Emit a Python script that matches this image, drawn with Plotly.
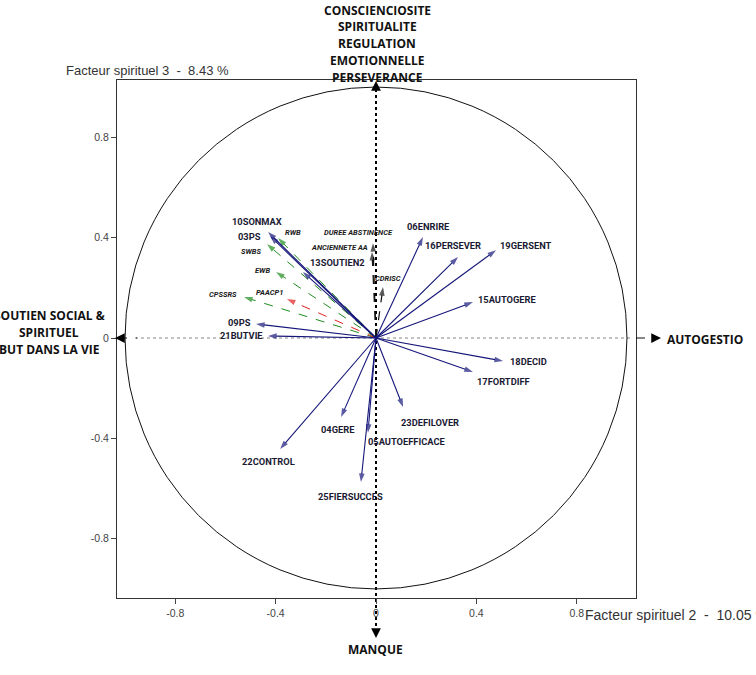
import plotly.graph_objects as go

# ---------------- data ----------------
blue_names = ["10SONMAX", "03PS", "13SOUTIEN2", "09PS", "21BUTVIE",
              "06ENRIRE", "16PERSEVER", "19GERSENT", "15AUTOGERE",
              "18DECID", "17FORTDIFF", "22CONTROL", "04GERE",
              "05AUTOEFFICACE", "25FIERSUCCES", "23DEFILOVER"]
blue_x = [-0.430, -0.422, -0.291, -0.478, -0.430,
          0.187, 0.327, 0.478, 0.386,
          0.506, 0.386, -0.382, -0.139,
          -0.032, -0.060, 0.108]
blue_y = [0.422, 0.406, 0.263, 0.056, 0.008,
          0.402, 0.323, 0.350, 0.143,
          -0.092, -0.135, -0.442, -0.315,
          -0.378, -0.574, -0.275]

green_names = ["RWB", "SWBS", "EWB", "CPSSRS"]
green_x = [-0.390, -0.434, -0.398, -0.526]
green_y = [0.398, 0.374, 0.263, 0.163]

red_names = ["PAACP1"]
red_x = [-0.355]
red_y = [0.155]

black_names = ["DUREE ABSTINENCE", "ANCIENNETE AA", "CDRISC"]
black_x = [-0.012, -0.016, 0.028]
black_y = [0.378, 0.343, 0.203]

tick_vals = [-0.8, -0.4, 0, 0.4, 0.8]
tick_text = ["-0.8", "-0.4", "0", "0.4", "0.8"]

x_title = "Facteur spirituel 2  -  10.05 %"
y_title = "Facteur spirituel 3  -  8.43 %"

# label placement (data units) for each variable
label_pos = {
    "10SONMAX": (-0.474, 0.466, "center"),
    "03PS": (-0.506, 0.406, "center"),
    "13SOUTIEN2": (-0.272, 0.299, "left"),
    "09PS": (-0.490, 0.060, "right"),
    "21BUTVIE": (-0.442, 0.008, "right"),
    "06ENRIRE": (0.211, 0.446, "center"),
    "16PERSEVER": (0.307, 0.367, "center"),
    "19GERSENT": (0.598, 0.367, "center"),
    "15AUTOGERE": (0.522, 0.155, "center"),
    "18DECID": (0.606, -0.092, "center"),
    "17FORTDIFF": (0.510, -0.175, "center"),
    "22CONTROL": (-0.430, -0.494, "center"),
    "04GERE": (-0.151, -0.363, "center"),
    "05AUTOEFFICACE": (0.120, -0.414, "center"),
    "25FIERSUCCES": (-0.100, -0.630, "center"),
    "23DEFILOVER": (0.215, -0.335, "center"),
    "RWB": (-0.371, 0.422, "left"),
    "SWBS": (-0.498, 0.343, "center"),
    "EWB": (-0.454, 0.267, "center"),
    "CPSSRS": (-0.610, 0.175, "center"),
    "PAACP1": (-0.426, 0.183, "center"),
    "DUREE ABSTINENCE": (-0.068, 0.422, "center"),
    "ANCIENNETE AA": (-0.147, 0.359, "center"),
    "CDRISC": (0.048, 0.239, "center"),
}

# ---------------- figure ----------------
fig = go.Figure()

BLUE = "#16167a"
GREEN = "#1e8c1e"
RED = "#e02020"
BLACK = "#111111"

def add_arrows(names, xs, ys, color, dash, width):
    for n, xv, yv in zip(names, xs, ys):
        fig.add_trace(go.Scatter(
            x=[0, xv], y=[0, yv], mode="lines+markers",
            line=dict(color=color, width=width, dash=dash),
            marker=dict(symbol="arrow", size=[0, 9], color=color,
                        angleref="previous", line=dict(width=0)),
            hoverinfo="text", text=[n, n], showlegend=False))

add_arrows(green_names, green_x, green_y, GREEN, "dash", 1)
add_arrows(red_names, red_x, red_y, RED, "dash", 1)
add_arrows(black_names, black_x, black_y, BLACK, "dash", 1.2)
add_arrows(blue_names, blue_x, blue_y, BLUE, "solid", 1.1)

annotations = []
LABEL_FONT = "Roboto, Arial"
for n in blue_names:
    x, y, anc = label_pos[n]
    annotations.append(dict(x=x, y=y, xref="x", yref="y", text="<b>%s</b>" % n,
                            showarrow=False, xanchor=anc, yanchor="middle",
                            font=dict(family=LABEL_FONT, size=9.3, color="#1a1a33")))
for n in green_names + red_names + black_names:
    x, y, anc = label_pos[n]
    annotations.append(dict(x=x, y=y, xref="x", yref="y", text="<b><i>%s</i></b>" % n,
                            showarrow=False, xanchor=anc, yanchor="middle",
                            font=dict(family=LABEL_FONT, size=7.5, color="#1a1a1a")))

# plot-area geometry (pixels)
L, R, T, B = 117, 636, 80, 598
W, H = R - L, B - T
def px(p):
    return (p - L) / W
def py(p):
    return (B - p) / H

BIG = dict(family="Open Sans, DejaVu Sans, Arial", size=12, color="#111111")
top_lines = ["CONSCIENCIOSITE", "SPIRITUALITE", "REGULATION", "EMOTIONNELLE", "PERSEVERANCE"]
for i, t in enumerate(top_lines):
    annotations.append(dict(x=px(377), y=py(10 + 16.8 * i), xref="paper", yref="paper",
                            text="<b>%s</b>" % t, showarrow=False, xanchor="center",
                            yanchor="middle", font=BIG))
left_lines = ["SOUTIEN SOCIAL &", "SPIRITUEL", "BUT DANS LA VIE"]
for i, t in enumerate(left_lines):
    annotations.append(dict(x=px(49), y=py(315 + 17 * i), xref="paper", yref="paper",
                            text="<b>%s</b>" % t, showarrow=False, xanchor="center",
                            yanchor="middle", font=BIG))
annotations.append(dict(x=px(665), y=py(339), xref="paper", yref="paper",
                        text="<b>AUTOGESTIO</b>", showarrow=False, xanchor="left",
                        yanchor="middle", font=BIG))
annotations.append(dict(x=px(375), y=py(649), xref="paper", yref="paper",
                        text="<b>MANQUE</b>", showarrow=False, xanchor="center",
                        yanchor="middle", font=BIG))

annotations.append(dict(x=px(64), y=py(70), xref="paper", yref="paper", text=y_title,
                        showarrow=False, xanchor="left", yanchor="middle",
                        font=dict(family="Liberation Sans, Arial", size=13, color="#333333")))
annotations.append(dict(x=px(583), y=py(615), xref="paper", yref="paper", text=x_title,
                        showarrow=False, xanchor="left", yanchor="middle",
                        font=dict(family="Liberation Sans, Arial", size=14, color="#333333")))

# axis arrowheads
AH = dict(showarrow=True, arrowhead=2, arrowsize=1.3, arrowwidth=1.5,
          arrowcolor="#000000", text="")
annotations.append(dict(x=0, y=py(81), xref="x", yref="paper", ax=0, ay=8, **AH))
annotations.append(dict(x=0, y=py(638), xref="x", yref="paper", ax=0, ay=-8, **AH))
annotations.append(dict(x=px(661), y=0, xref="paper", yref="y", ax=-8, ay=0, **AH))
annotations.append(dict(x=px(115), y=0, xref="paper", yref="y", ax=8, ay=0, **AH))

shapes = [
    dict(type="circle", xref="x", yref="y", x0=-1, y0=-1, x1=1, y1=1,
         line=dict(color="#111111", width=1), layer="below"),
    # horizontal dotted axis
    dict(type="line", xref="paper", yref="y", x0=px(135), x1=px(630), y0=0, y1=0,
         line=dict(color="#888888", width=1.2, dash="dot"), layer="below"),
    dict(type="line", xref="paper", yref="y", x0=px(636), x1=px(655), y0=0, y1=0,
         line=dict(color="#111111", width=1.2, dash="dash")),
    dict(type="line", xref="paper", yref="y", x0=px(118), x1=px(137), y0=0, y1=0,
         line=dict(color="#111111", width=1.2, dash="dash")),
    # vertical dotted axis
    dict(type="line", xref="x", yref="paper", x0=0, x1=0, y0=py(632), y1=py(86),
         line=dict(color="#000000", width=2, dash="dot"), layer="below"),
]

fig.update_layout(
    width=756, height=675,
    margin=dict(l=L, r=756 - R, t=T, b=675 - B, pad=0),
    paper_bgcolor="white", plot_bgcolor="white",
    showlegend=False,
    annotations=annotations, shapes=shapes,
    font=dict(family="Liberation Sans, Arial", size=10, color="#333333"),
)
fig.update_xaxes(range=[-1.032, 1.036], tickvals=tick_vals, ticktext=tick_text,
                 showgrid=False, zeroline=False, showline=True, mirror=True,
                 linecolor="#333333", linewidth=1, ticks="outside", ticklen=5,
                 tickcolor="#444444", tickfont=dict(size=10.5, color="#444444"))
fig.update_yaxes(range=[-1.036, 1.028], tickvals=tick_vals, ticktext=tick_text,
                 showgrid=False, zeroline=False, showline=True, mirror=True,
                 linecolor="#333333", linewidth=1, ticks="outside", ticklen=5,
                 tickcolor="#444444", tickfont=dict(size=10.5, color="#444444"))

fig.write_html("out.html", config={"displayModeBar": False},
               post_script="document.body.style.margin='0';document.body.style.overflow='hidden';")
